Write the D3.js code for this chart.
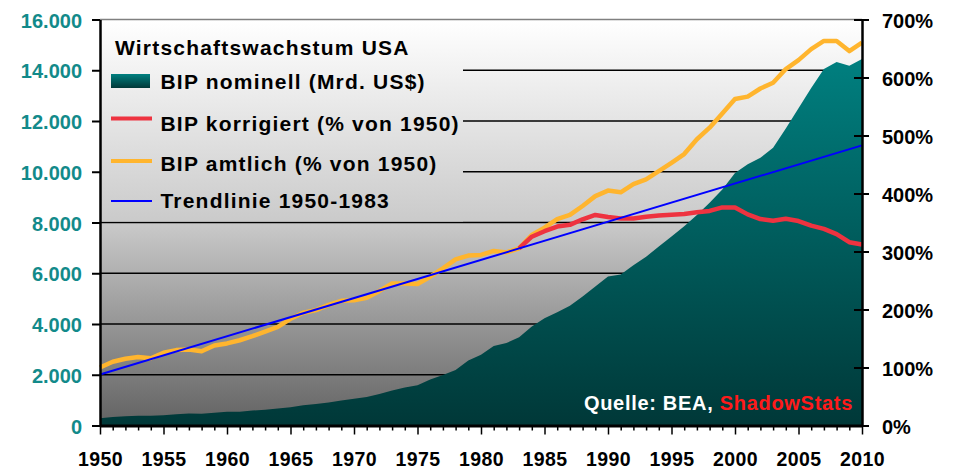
<!DOCTYPE html>
<html>
<head>
<meta charset="utf-8">
<script src="https://cdn.jsdelivr.net/npm/d3@7"></script>
<style>
  body { margin: 0; background: #fff; }
  svg { display: block; font-family: "Liberation Sans", Arial, sans-serif; font-weight: bold; }
</style>
</head>
<body>
<svg id="chart" width="955" height="470"></svg>
<script>
// Jahre 1950–2010
const years = [1950,1951,1952,1953,1954,1955,1956,1957,1958,1959,
               1960,1961,1962,1963,1964,1965,1966,1967,1968,1969,
               1970,1971,1972,1973,1974,1975,1976,1977,1978,1979,
               1980,1981,1982,1983,1984,1985,1986,1987,1988,1989,
               1990,1991,1992,1993,1994,1995,1996,1997,1998,1999,
               2000,2001,2002,2003,2004,2005,2006,2007,2008,2009,2010];

// BIP nominell, Mrd. US$ (linke Achse)
const bipNominell = [285,336,360,387,385,404,440,470,466,507,
                     542,545,590,622,671,719,797,846,911,990,
                     1050,1128,1237,1378,1500,1585,1810,1990,2190,2560,
                     2790,3130,3250,3480,3900,4230,4460,4720,5080,5480,
                     5870,5950,6320,6650,7050,7450,7850,8300,8780,9300,
                     9950,10300,10550,10950,11700,12500,13300,14050,14330,14180,14440];

// BIP amtlich, % von 1950 (rechte Achse)
const bipAmtlich = [100,110,115,118,116,125.5,130,131,128,138,
                    141.5,147,154,162,170,184,194.5,199,208,215,
                    216,220,232,245,245,244,256.5,271,286.5,293,
                    294,301,298.5,305.5,328.5,341,356,363,378.5,395.5,
                    405,402,416,424.5,438.5,453,468,493.5,513.5,538,
                    563,567,581,591,614.5,630,649,663,663,645.5,660];

// BIP korrigiert (ShadowStats), % von 1950, ab 1983
const korrJahre = [1983,1984,1985,1986,1987,1988,1989,1990,1991,1992,
                   1993,1994,1995,1996,1997,1998,1999,2000,2001,2002,
                   2003,2004,2005,2006,2007,2008,2009,2010];
const bipKorrigiert = [305.5,325.5,335,343,346,355.5,363,359.5,357,357,
                       360,362,363.5,364.5,367.5,370,376,376,364,356,
                       353,356.5,352.5,344.5,339,330,316,312];

// Trendlinie 1950-1983, verlängert bis 2010
const trendJahre = [1950, 2010];
const trendWerte = [88, 483];

const leftTicks = [0,2000,4000,6000,8000,10000,12000,14000,16000];
const rightTicks = [0,100,200,300,400,500,600,700];

const legendTitle = "Wirtschaftswachstum USA";
const legendLabels = ["BIP nominell (Mrd. US$)", "BIP korrigiert (% von 1950)",
                      "BIP amtlich (% von 1950)", "Trendlinie 1950-1983"];

const C = { teal: "#008080", tealDark: "#003838", red: "#ee3340", orange: "#ffb52e",
            blue: "#0000ff", tickTeal: "#128a8a" };

const svg = d3.select("#chart");
const L = 100, R = 862, T = 19.5, B = 425.5;

const x = d3.scaleLinear().domain([1950, 2010]).range([L, R]);
const yL = d3.scaleLinear().domain([0, 16000]).range([B, T]);
const yR = d3.scaleLinear().domain([0, 700]).range([B, T]);

const de = d3.formatLocale({ decimal: ",", thousands: ".", grouping: [3], currency: ["", " €"] });
const fmtL = de.format(",d");

// Verläufe
const defs = svg.append("defs");
const bg = defs.append("linearGradient").attr("id", "bgGrad")
  .attr("gradientUnits", "userSpaceOnUse").attr("x1", 0).attr("x2", 0).attr("y1", T).attr("y2", B);
bg.append("stop").attr("offset", 0).attr("stop-color", "#ffffff");
bg.append("stop").attr("offset", 0.5).attr("stop-color", "#cacaca");
bg.append("stop").attr("offset", 1).attr("stop-color", "#626262");

const ag = defs.append("linearGradient").attr("id", "areaGrad")
  .attr("gradientUnits", "userSpaceOnUse").attr("x1", 0).attr("x2", 0).attr("y1", 55).attr("y2", B);
ag.append("stop").attr("offset", 0).attr("stop-color", C.teal);
ag.append("stop").attr("offset", 1).attr("stop-color", C.tealDark);

const sg = defs.append("linearGradient").attr("id", "swatchGrad")
  .attr("x1", 0).attr("x2", 0).attr("y1", 0).attr("y2", 1);
sg.append("stop").attr("offset", 0).attr("stop-color", C.teal);
sg.append("stop").attr("offset", 1).attr("stop-color", C.tealDark);

// Hintergrund der Zeichenfläche
svg.append("rect").attr("x", L).attr("y", T).attr("width", R - L).attr("height", B - T)
  .attr("fill", "url(#bgGrad)");

// Gitterlinien
svg.append("g").selectAll("line").data(leftTicks.filter(d => d > 0 && d < 16000)).join("line")
  .attr("x1", L).attr("x2", R).attr("y1", d => yL(d)).attr("y2", d => yL(d))
  .attr("stroke", "#000").attr("stroke-width", 1.5);

// Fläche BIP nominell
const area = d3.area().x((d, i) => x(years[i])).y0(B).y1(d => yL(d));
svg.append("path").datum(bipNominell).attr("d", area).attr("fill", "url(#areaGrad)");

// Legendenfeld
svg.append("rect").attr("x", L).attr("y", T).attr("width", 363).attr("height", 202)
  .attr("fill", "url(#bgGrad)");

// obere Begrenzung
svg.append("line").attr("x1", L).attr("x2", R).attr("y1", T).attr("y2", T)
  .attr("stroke", "#808080").attr("stroke-width", 1.5);

// Linien
const lineR = d3.line().x(d => x(d[0])).y(d => yR(d[1]));
svg.append("path").datum(years.map((yr, i) => [yr, bipAmtlich[i]])).attr("d", lineR)
  .attr("fill", "none").attr("stroke", C.orange).attr("stroke-width", 4.5)
  .attr("stroke-linejoin", "round");
svg.append("path").datum(korrJahre.map((yr, i) => [yr, bipKorrigiert[i]])).attr("d", lineR)
  .attr("fill", "none").attr("stroke", C.red).attr("stroke-width", 4.5)
  .attr("stroke-linejoin", "round");
svg.append("path").datum(trendJahre.map((yr, i) => [yr, trendWerte[i]])).attr("d", lineR)
  .attr("fill", "none").attr("stroke", C.blue).attr("stroke-width", 2);

// Achsen
const gL = svg.append("g").attr("transform", `translate(${L},0)`)
  .call(d3.axisLeft(yL).tickValues(leftTicks).tickFormat(fmtL).tickSizeInner(8).tickSizeOuter(0));
gL.select(".domain").attr("stroke", "#000").attr("stroke-width", 2.5);
gL.selectAll(".tick line").attr("stroke", "#000").attr("stroke-width", 2);
gL.selectAll(".tick text").attr("x", -18).attr("dy", null).attr("y", 7.5)
  .attr("fill", C.tickTeal).style("font-size", "20px").style("font-weight", "bold")
  .style("font-family", '"Liberation Sans", Arial, sans-serif');

const gR = svg.append("g").attr("transform", `translate(${R},0)`)
  .call(d3.axisRight(yR).tickValues(rightTicks).tickFormat(d => d + "%").tickSizeInner(7).tickSizeOuter(0));
gR.select(".domain").attr("stroke", "#000").attr("stroke-width", 2.5);
gR.selectAll(".tick line").attr("x1", -8).attr("stroke", "#000").attr("stroke-width", 2);
gR.selectAll(".tick text").attr("x", 20).attr("dy", null).attr("y", 8)
  .attr("fill", "#000").style("font-size", "20px").style("font-weight", "bold")
  .style("font-family", '"Liberation Sans", Arial, sans-serif');

const gB = svg.append("g").attr("transform", `translate(0,${B})`)
  .call(d3.axisBottom(x).tickValues(years).tickFormat(d => d % 5 === 0 ? d : "").tickSizeOuter(0));
gB.select(".domain").attr("stroke", "#000").attr("stroke-width", 3);
gB.selectAll(".tick line").attr("y2", d => d % 5 === 0 ? 9 : 5).attr("stroke", "#000").attr("stroke-width", 1.5);
gB.selectAll(".tick text").attr("y", 40).attr("dy", null)
  .attr("fill", "#000").style("font-size", "19.5px").style("font-weight", "bold")
  .style("letter-spacing", "0.4px")
  .style("font-family", '"Liberation Sans", Arial, sans-serif');

// Legende
const lg = svg.append("g").style("font-size", "21px").style("letter-spacing", "1.2px").attr("fill", "#000");
lg.append("text").attr("x", 115).attr("y", 55).text(legendTitle);
const rowsY = [89, 130.5, 170.5, 208];
lg.append("rect").attr("x", 111).attr("y", 74).attr("width", 39).attr("height", 14).attr("fill", "url(#swatchGrad)");
lg.append("line").attr("x1", 111).attr("x2", 152).attr("y1", 118.5).attr("y2", 118.5)
  .attr("stroke", C.red).attr("stroke-width", 4);
lg.append("line").attr("x1", 111).attr("x2", 152).attr("y1", 161).attr("y2", 161)
  .attr("stroke", C.orange).attr("stroke-width", 4);
lg.append("line").attr("x1", 111).attr("x2", 152).attr("y1", 201).attr("y2", 201)
  .attr("stroke", C.blue).attr("stroke-width", 2);
lg.selectAll("text.item").data(legendLabels).join("text").attr("class", "item")
  .attr("x", 160.5).attr("y", (d, i) => rowsY[i]).text(d => d);

// Quellenangabe
const src = svg.append("text").attr("x", 853).attr("y", 410).attr("text-anchor", "end")
  .style("font-size", "20px").style("letter-spacing", "0.7px");
src.append("tspan").attr("fill", "#ffffff").text("Quelle: BEA, ");
src.append("tspan").attr("fill", "#ff1a1a").text("ShadowStats");
</script>
</body>
</html>
